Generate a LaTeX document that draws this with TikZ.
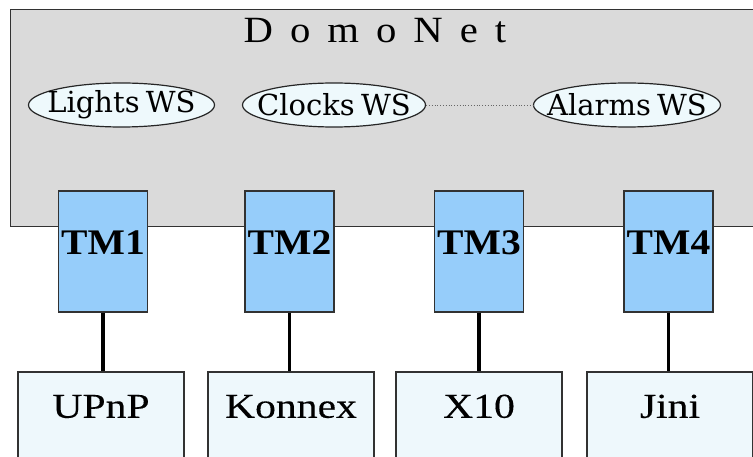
\documentclass[tikz,border=0pt]{standalone}
\usepackage{fontspec}
\setmainfont{Liberation Serif}
\newfontfamily\titlefont[FakeStretch=1.1]{Liberation Serif}
\newfontfamily\protofont[FakeStretch=1.19,FakeBold=0.2]{Liberation Serif}
\newfontfamily\tmfont[FakeStretch=1.1]{Liberation Serif}
\newfontfamily\wsfont{DejaVu Serif}
\usetikzlibrary{shapes.geometric}
\definecolor{domogray}{RGB}{218,218,218}
\definecolor{tmblue}{RGB}{150,205,250}
\definecolor{protofill}{RGB}{238,248,252}
\definecolor{wsfill}{RGB}{238,249,252}
\definecolor{edgegray}{RGB}{50,50,50}
\begin{document}
\begin{tikzpicture}[x=1pt,y=-1pt,
  netbox/.style={draw=edgegray, line width=1.3pt, fill=domogray, anchor=north west,
    minimum width=780pt, minimum height=217pt, inner sep=0pt},
  tmbox/.style={draw=edgegray, line width=1.2pt, fill=tmblue, minimum width=89pt,
    minimum height=121pt, inner sep=0pt, text height=0.66em, text depth=0pt,
    font=\tmfont\fontsize{36}{38}\selectfont\bfseries},
  protobox/.style={draw=edgegray, line width=1.2pt, fill=protofill, minimum width=166pt,
    minimum height=90pt, inner sep=0pt, text height=0.66em, text depth=5pt,
    font=\protofont\fontsize{35}{37}\selectfont},
  wsnode/.style={ellipse, draw=black!85, line width=1.2pt, fill=wsfill, minimum width=186pt,
    minimum height=44pt, inner sep=0pt, font=\wsfont\fontsize{29}{31}\selectfont},
  link/.style={line width=3.2pt, black},
  titletext/.style={inner sep=0pt, text height=0.66em, text depth=0pt,
    font=\titlefont\fontsize{37}{39}\selectfont}]
\useasboundingbox (0,0) rectangle (753,457);
\clip (0,0) rectangle (753,457);
\node[netbox] (domonet) at (9.5,9) {};
\node[titletext] (title) at (375,39) {D\kern17pt o\kern17pt m\kern17pt o\kern17pt N\kern17pt e\kern17pt t};
\node[wsnode] (lights) at (121.5,105) {\makebox[0pt]{Lights\kern-3pt\ WS}};
\node[wsnode, minimum width=183pt] (clocks) at (334,105) {\makebox[0pt]{Clocks\kern-3pt\ WS}};
\node[wsnode, minimum width=187pt] (alarms) at (627,105) {\makebox[0pt]{Alarms\kern-3pt\ WS}};
\draw[dotted, line width=0.8pt, black!60] (clocks.east) -- (alarms.west);
\node[tmbox] (tm1) at (103,251.5) {TM1};
\node[tmbox] (tm2) at (289.5,251.5) {TM2};
\node[tmbox] (tm3) at (479,251.5) {TM3};
\node[tmbox] (tm4) at (668.5,251.5) {TM4};
\node[protobox] (upnp) at (101,417) {UPnP};
\node[protobox] (konnex) at (291,417) {Konnex};
\node[protobox] (x10) at (479,417) {X10};
\node[protobox] (jini) at (670,417) {Jini};
\draw[link] (tm1.south) -- (tm1.south |- upnp.north);
\draw[link] (tm2.south) -- (tm2.south |- konnex.north);
\draw[link] (tm3.south) -- (tm3.south |- x10.north);
\draw[link] (tm4.south) -- (tm4.south |- jini.north);
\end{tikzpicture}
\end{document}
